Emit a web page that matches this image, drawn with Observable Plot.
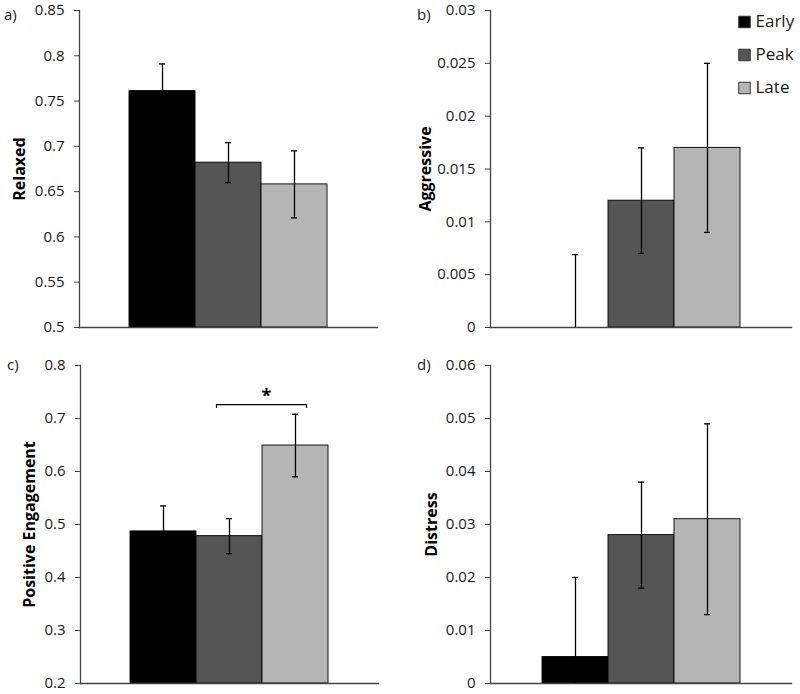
<!DOCTYPE html>
<html>
<head>
<meta charset="utf-8">
<script src="https://cdn.jsdelivr.net/npm/d3@7"></script>
<script src="https://cdn.jsdelivr.net/npm/@observablehq/plot@0.6"></script>
<style>
  body { margin: 0; background: #fff; }
  #wrap { position: relative; width: 800px; height: 694px; font-family: "Open Sans", sans-serif; background: #fff; overflow: hidden; }
  #wrap svg { position: absolute; }
  .tag { position: absolute; font-size: 15px; line-height: 15px; color: #1a1a1a; }
</style>
</head>
<body>
<div id="wrap"></div>
<script>
// ---- data ----
const phases = ["Early", "Peak", "Late"];
const phaseColors = ["#000000", "#555555", "#b5b5b5"];

const relaxedMean = [0.761, 0.682, 0.658];
const relaxedErr  = [0.030, 0.022, 0.037];
const relaxedTicks = [0.5, 0.55, 0.6, 0.65, 0.7, 0.75, 0.8, 0.85];

const aggressiveMean = [0, 0.012, 0.017];
const aggressiveErr  = [0.0069, 0.005, 0.008];
const aggressiveTicks = [0, 0.005, 0.01, 0.015, 0.02, 0.025, 0.03];

const positiveMean = [0.487, 0.478, 0.649];
const positiveErr  = [0.048, 0.033, 0.059];
const positiveTicks = [0.2, 0.3, 0.4, 0.5, 0.6, 0.7, 0.8];

const distressMean = [0.005, 0.028, 0.031];
const distressErr  = [0.015, 0.010, 0.018];
const distressTicks = [0, 0.01, 0.02, 0.03, 0.04, 0.05, 0.06];

const sigFrom = ["Peak"];
const sigTo = ["Late"];
const sigLabel = ["*"];

// ---- drawing ----
const wrap = document.getElementById("wrap");
const fmt = d => String(+d.toFixed(4));
const axisColor = "#444";

function panel(o) {
  const base = o.ticks[0];
  const top = o.ticks[o.ticks.length - 1];
  const data = phases.map((p, i) => ({
    phase: p,
    base: base,
    mean: o.means[i],
    lo: Math.max(base, o.means[i] - o.errs[i]),
    hi: o.means[i] + o.errs[i]
  }));
  const svg = Plot.plot({
    width: o.width, height: o.height,
    marginTop: o.m[0], marginRight: o.m[1], marginBottom: o.m[2], marginLeft: o.m[3],
    style: { fontFamily: "Open Sans", fontSize: "15px", color: "#1a1a1a", background: "transparent", overflow: "visible" },
    x: { type: "band", domain: phases, paddingInner: 0, paddingOuter: o.outer, axis: null },
    y: { domain: [base, top], label: null },
    color: { domain: phases, range: phaseColors },
    marks: [
      Plot.barY(data.filter(d => d.mean > base), { x: "phase", y1: "base", y2: "mean", fill: "phase", stroke: "#000", strokeWidth: 0.9 }),
      Plot.frame({ anchor: "left", stroke: axisColor, strokeWidth: 1.3 }),
      Plot.frame({ anchor: "bottom", stroke: axisColor, strokeWidth: 1.3 }),
      Plot.axisY({ ticks: o.ticks, tickFormat: fmt, tickSize: 5, tickPadding: 10, label: null, stroke: axisColor, fill: "#1a1a1a", fontSize: 15 }),
      Plot.ruleX(data, { x: "phase", y1: "lo", y2: "hi", stroke: "#000", strokeWidth: 1.3 }),
      Plot.tickY(data, { x: "phase", y: "hi", stroke: "#000", strokeWidth: 1.3, insetLeft: 30, insetRight: 30 }),
      Plot.tickY(data.filter(d => d.lo > base), { x: "phase", y: "lo", stroke: "#000", strokeWidth: 1.3, insetLeft: 30, insetRight: 30 }),
      Plot.text([o.label], { frameAnchor: "left", textAnchor: "middle", dx: o.labelDx, rotate: -90, fontWeight: "bold", fontSize: 16, fill: "#000" }),
      ...(o.extra || [])
    ]
  });
  svg.style.left = o.left + "px";
  svg.style.top = o.top + "px";
  wrap.appendChild(svg);
}

panel({ means: relaxedMean, errs: relaxedErr, ticks: relaxedTicks, label: "Relaxed", labelDx: -60,
  left: 0, top: 0, width: 400, height: 340, m: [10, 23, 13, 79], outer: 0.73 });

panel({ means: aggressiveMean, errs: aggressiveErr, ticks: aggressiveTicks, label: "Aggressive", labelDx: -65,
  left: 400, top: 0, width: 400, height: 340, m: [10, 9, 13, 90], outer: 0.757 });

const sig = sigFrom.map((f, i) => ({ from: f, to: sigTo[i], text: sigLabel[i] }));
panel({ means: positiveMean, errs: positiveErr, ticks: positiveTicks, label: "Positive Engagement", labelDx: -51,
  left: 0, top: 340, width: 400, height: 354, m: [25, 22, 11, 80], outer: 0.729,
  extra: [
    Plot.ruleY(sig, { x1: "from", x2: "to", y: () => 0.726, insetLeft: 20, insetRight: 22, stroke: "#000", strokeWidth: 1.2 }),
    Plot.ruleX(sig, { x: "from", y1: () => 0.719, y2: () => 0.726, dx: -13, stroke: "#000", strokeWidth: 1.2 }),
    Plot.ruleX(sig, { x: "to", y1: () => 0.719, y2: () => 0.726, dx: 11, stroke: "#000", strokeWidth: 1.2 }),
    Plot.text(sig, { x: "to", y: () => 0.742, text: "text", dx: -29, fontSize: 18, fontWeight: "bold", fill: "#000" })
  ] });

panel({ means: distressMean, errs: distressErr, ticks: distressTicks, label: "Distress", labelDx: -59,
  left: 400, top: 340, width: 400, height: 354, m: [25, 9, 11, 90], outer: 0.757 });

// legend
const legend = Plot.plot({
  width: 68, height: 108,
  marginTop: 4, marginBottom: 4, marginLeft: 12, marginRight: 0,
  style: { fontFamily: "Open Sans", fontSize: "17px", color: "#1a1a1a", background: "transparent", overflow: "visible" },
  x: { axis: null },
  y: { type: "band", domain: phases, padding: 0, axis: null },
  color: { domain: phases, range: phaseColors },
  marks: [
    Plot.dot(phases, { y: d => d, frameAnchor: "left", symbol: "square", r: 6.5, fill: d => d, stroke: "#333", strokeWidth: 1 }),
    Plot.text(phases, { y: d => d, text: d => d, frameAnchor: "left", dx: 11, textAnchor: "start", fontSize: 17, fill: "#1a1a1a" })
  ]
});
legend.style.left = "732px";
legend.style.top = "0px";
wrap.appendChild(legend);

// panel tags
[["a)", 4, 7], ["b)", 417, 7], ["c)", 7, 357], ["d)", 417, 357]].forEach(([t, x, y]) => {
  const d = document.createElement("div");
  d.className = "tag";
  d.textContent = t;
  d.style.left = x + "px";
  d.style.top = y + "px";
  wrap.appendChild(d);
});
</script>
</body>
</html>
